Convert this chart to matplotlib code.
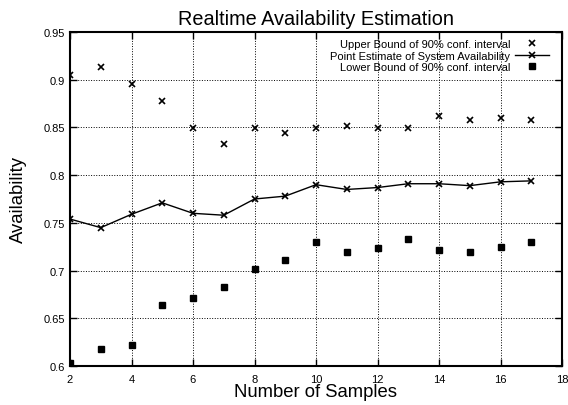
import matplotlib
matplotlib.use("Agg")
import matplotlib.pyplot as plt
from matplotlib.ticker import FormatStrFormatter

plt.rcParams["font.family"] = ["Liberation Sans", "DejaVu Sans"]

samples = [2, 3, 4, 5, 6, 7, 8, 9, 10, 11, 12, 13, 14, 15, 16, 17]
upper = [0.905, 0.913, 0.896, 0.878, 0.849, 0.833, 0.849, 0.844,
         0.849, 0.851, 0.849, 0.849, 0.862, 0.858, 0.860, 0.858]
point = [0.754, 0.745, 0.759, 0.771, 0.760, 0.758, 0.775, 0.778,
         0.790, 0.785, 0.787, 0.791, 0.791, 0.789, 0.793, 0.794]
lower = [0.603, 0.618, 0.622, 0.664, 0.671, 0.683, 0.702, 0.711,
         0.730, 0.719, 0.724, 0.733, 0.722, 0.719, 0.725, 0.730]

fig = plt.figure(figsize=(5.68, 4.06), dpi=100)
ax = fig.add_axes([70 / 568, 1 - 367 / 406, 492 / 568, 334 / 406])

ax.plot(samples, upper, linestyle="none", marker="x", color="black",
        markersize=5, markeredgewidth=1.2, label="Upper Bound of 90% conf. interval")
ax.plot(samples, point, linestyle="-", marker="x", color="black", linewidth=1,
        markersize=5, markeredgewidth=1.2, label="Point Estimate of System Availability")
ax.plot(samples, lower, linestyle="none", marker="s", color="black",
        markersize=4, label="Lower Bound of 90% conf. interval")

ax.set_xlim(2, 18)
ax.set_ylim(0.6, 0.95)
ax.set_xticks(range(2, 19, 2))
ax.set_yticks([0.6, 0.65, 0.7, 0.75, 0.8, 0.85, 0.9, 0.95])
ax.yaxis.set_major_formatter(FormatStrFormatter("%g"))
ax.tick_params(direction="in", top=True, right=True, labelsize=8, length=5, width=1)
ax.tick_params(axis="x", pad=6)
ax.grid(True, linestyle=":", color="black", linewidth=0.7)
for s in ax.spines.values():
    s.set_linewidth(1.5)

ax.set_title("Realtime Availability Estimation", fontsize=14.3, pad=6)
ax.set_xlabel("Number of Samples", fontsize=13.3, labelpad=-1)
ax.set_ylabel("Availability", fontsize=13.3, labelpad=12)

leg = ax.legend(loc="upper right", bbox_to_anchor=(1, 1 + 6 / 334),
                markerfirst=False, frameon=False, fontsize=8,
                handlelength=3, borderaxespad=0.8, labelspacing=0.12,
                handletextpad=0.45, borderpad=0.4)
for t in leg.get_texts():
    t.set_ha("right")

fig.savefig("out.png", dpi=100)
